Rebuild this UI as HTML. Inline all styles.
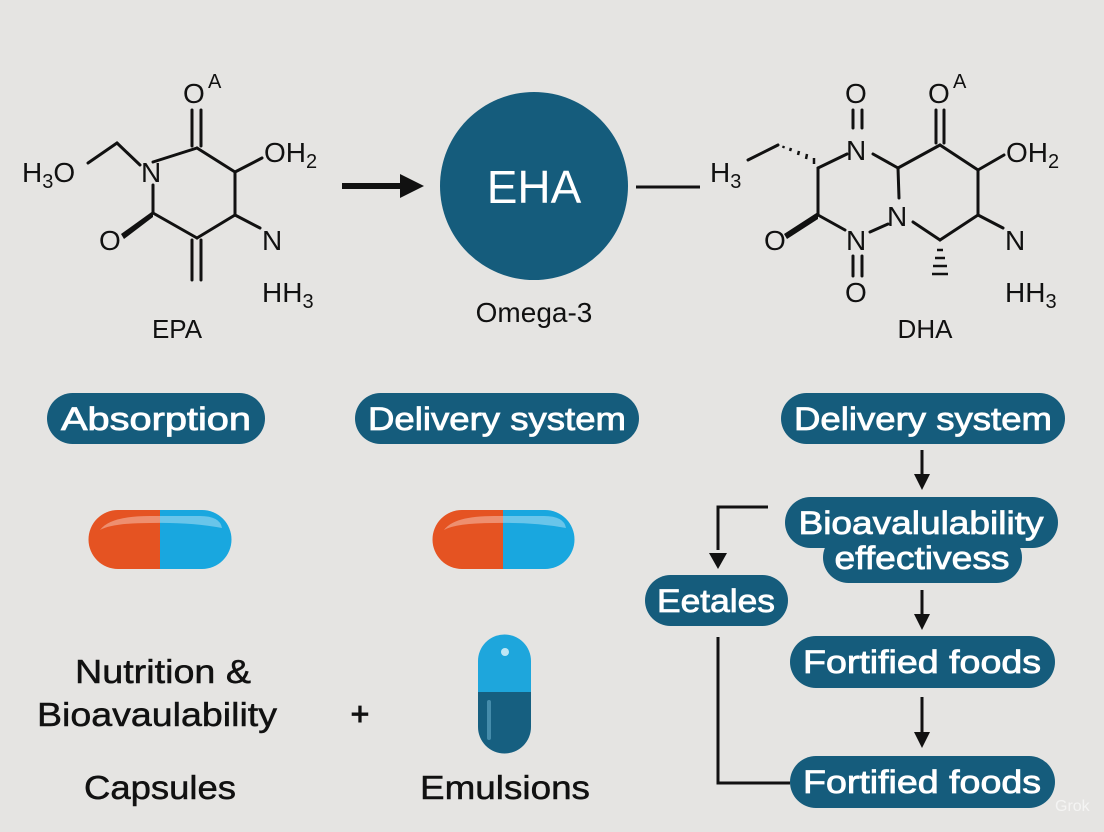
<!DOCTYPE html>
<html><head><meta charset="utf-8"><style>
html,body{margin:0;padding:0;background:#e5e4e2;}
svg{display:block;}
text{font-family:"Liberation Sans",sans-serif;}
</style></head><body>
<svg width="1104" height="832" viewBox="0 0 1104 832" xmlns="http://www.w3.org/2000/svg">
<rect width="1104" height="832" fill="#e5e4e2"/>

<!-- Left molecule EPA -->
<g stroke="#111" stroke-width="3" fill="none" stroke-linecap="round">
<line x1="197" y1="148" x2="153" y2="162"/>
<line x1="197" y1="148" x2="235" y2="172"/>
<line x1="235" y1="172" x2="235" y2="215"/>
<line x1="235" y1="215" x2="197" y2="238"/>
<line x1="197" y1="238" x2="153" y2="213"/>
<line x1="153" y1="213" x2="153" y2="185"/>
<line x1="192" y1="146" x2="192" y2="110"/><line x1="201" y1="146" x2="201" y2="110"/>
<line x1="192" y1="240" x2="192" y2="280"/><line x1="201" y1="240" x2="201" y2="280"/>
<line x1="140" y1="165" x2="117" y2="143"/>
<line x1="117" y1="143" x2="88" y2="163"/>
<line x1="235" y1="172" x2="262" y2="158"/>
<line x1="235" y1="215" x2="260" y2="228"/>
</g>
<polygon points="153,211 153,217 124,239 121,234" fill="#111"/>
<g font-size="28" fill="#111">
<text x="183" y="103">O</text><text x="208" y="88" font-size="20">A</text>
<text x="141" y="182">N</text>
<text x="22" y="182">H<tspan font-size="20" dy="6">3</tspan><tspan dy="-6">O</tspan></text>
<text x="264" y="162">OH<tspan font-size="20" dy="6">2</tspan></text>
<text x="99" y="250">O</text>
<text x="262" y="250">N</text>
<text x="262" y="302">HH<tspan font-size="20" dy="6">3</tspan></text>
<text x="177" y="338" font-size="26" text-anchor="middle">EPA</text>
</g>

<!-- Arrow and circle -->
<line x1="342" y1="186" x2="404" y2="186" stroke="#111" stroke-width="6"/>
<polygon points="400,174 424,186 400,198" fill="#111"/>
<circle cx="534" cy="186" r="94" fill="#155c7c"/>
<text x="534" y="203" font-size="46" fill="#fff" text-anchor="middle">EHA</text>
<text x="534" y="322" font-size="28" fill="#111" text-anchor="middle">Omega-3</text>
<line x1="636" y1="187" x2="700" y2="187" stroke="#111" stroke-width="3"/>

<!-- Right molecule DHA -->
<g stroke="#111" stroke-width="3" fill="none" stroke-linecap="round">
<line x1="818" y1="168" x2="847" y2="154"/>
<line x1="873" y1="154" x2="898" y2="168"/>
<line x1="898" y1="168" x2="899" y2="198"/>
<line x1="818" y1="168" x2="818" y2="215"/>
<line x1="818" y1="215" x2="845" y2="230"/>
<line x1="870" y1="232" x2="888" y2="224"/>
<line x1="913" y1="222" x2="940" y2="240"/>
<line x1="940" y1="240" x2="978" y2="215"/>
<line x1="978" y1="215" x2="978" y2="170"/>
<line x1="978" y1="170" x2="940" y2="145"/>
<line x1="940" y1="145" x2="898" y2="168"/>
<line x1="978" y1="170" x2="1004" y2="155"/>
<line x1="978" y1="215" x2="1003" y2="228"/>
<line x1="936" y1="143" x2="936" y2="110"/><line x1="944" y1="143" x2="944" y2="110"/>
<line x1="853" y1="128" x2="853" y2="110"/><line x1="862" y1="128" x2="862" y2="110"/>
<line x1="853" y1="256" x2="853" y2="276"/><line x1="862" y1="256" x2="862" y2="276"/>
<line x1="778" y1="145" x2="748" y2="160"/>
</g>
<g stroke="#111" stroke-width="2.5">
<line x1="814" y1="164" x2="814" y2="158"/><line x1="806" y1="159" x2="807" y2="154"/>
<line x1="798" y1="155" x2="799" y2="151"/><line x1="790" y1="151" x2="791" y2="148"/>
<line x1="783" y1="148" x2="784" y2="146"/>
<line x1="937" y1="250" x2="943" y2="250"/><line x1="935" y1="258" x2="945" y2="258"/>
<line x1="933" y1="266" x2="947" y2="266"/><line x1="932" y1="274" x2="948" y2="274"/>
</g>
<polygon points="818,212 818,219 787,239 784,234" fill="#111"/>
<g font-size="28" fill="#111">
<text x="928" y="103">O</text><text x="953" y="88" font-size="20">A</text>
<text x="845" y="103">O</text>
<text x="846" y="160">N</text>
<text x="887" y="226">N</text>
<text x="846" y="250">N</text>
<text x="845" y="302">O</text>
<text x="764" y="250">O</text>
<text x="710" y="182">H<tspan font-size="20" dy="6">3</tspan></text>
<text x="1006" y="162">OH<tspan font-size="20" dy="6">2</tspan></text>
<text x="1005" y="250">N</text>
<text x="1005" y="302">HH<tspan font-size="20" dy="6">3</tspan></text>
<text x="925" y="338" font-size="26" text-anchor="middle">DHA</text>
</g>

<!-- Pill labels -->
<g fill="#155c7c">
<rect x="47" y="393" width="218" height="51" rx="25.5"/>
<rect x="355" y="393" width="284" height="51" rx="25.5"/>
<rect x="781" y="393" width="284" height="51" rx="25.5"/>
<rect x="785" y="497" width="273" height="51" rx="25.5"/>
<rect x="823" y="532" width="199" height="51" rx="25.5"/>
<rect x="645" y="575" width="143" height="51" rx="25.5"/>
<rect x="790" y="636" width="265" height="52" rx="26"/>
<rect x="790" y="756" width="265" height="52" rx="26"/>
</g>
<g fill="#fff" font-size="32" text-anchor="middle" stroke="#fff" stroke-width="0.8">
<text x="156" y="430" textLength="190" lengthAdjust="spacingAndGlyphs">Absorption</text>
<text x="497" y="430" textLength="258" lengthAdjust="spacingAndGlyphs">Delivery system</text>
<text x="923" y="430" textLength="258" lengthAdjust="spacingAndGlyphs">Delivery system</text>
<text x="921" y="534" textLength="245" lengthAdjust="spacingAndGlyphs">Bioavalulability</text>
<text x="922" y="569" textLength="175" lengthAdjust="spacingAndGlyphs">effectivess</text>
<text x="716" y="612" textLength="118" lengthAdjust="spacingAndGlyphs">Eetales</text>
<text x="922" y="673" textLength="238" lengthAdjust="spacingAndGlyphs">Fortified foods</text>
<text x="922" y="793" textLength="238" lengthAdjust="spacingAndGlyphs">Fortified foods</text>
</g>

<!-- Flow connectors -->
<g stroke="#111" stroke-width="3" fill="none">
<line x1="922" y1="450" x2="922" y2="478"/>
<line x1="922" y1="590" x2="922" y2="618"/>
<line x1="922" y1="697" x2="922" y2="735"/>
<polyline points="768,507 718,507 718,550"/>
<polyline points="718,637 718,783 790,783"/>
</g>
<g fill="#111">
<polygon points="914,474 930,474 922,490"/>
<polygon points="914,614 930,614 922,630"/>
<polygon points="914,732 930,732 922,748"/>
<polygon points="709,553 727,553 718,569"/>
</g>

<!-- Capsules horizontal -->
<g>
<path d="M118,510 H160 V569 H118 A29.5,29.5 0 0 1 118,510Z" fill="#e55322"/>
<path d="M160,510 H202 A29.5,29.5 0 0 1 202,569 H160Z" fill="#19a7df"/>
<path d="M100,530 Q110,516 150,516 H200 Q220,516 222,528 Q190,522 150,523 Q112,523 100,530Z" fill="#fff" opacity="0.35"/>
<path d="M462,510 H503 V569 H462 A29.5,29.5 0 0 1 462,510Z" fill="#e55322"/>
<path d="M503,510 H545 A29.5,29.5 0 0 1 545,569 H503Z" fill="#19a7df"/>
<path d="M444,530 Q454,516 494,516 H544 Q564,516 566,528 Q534,522 494,523 Q456,523 444,530Z" fill="#fff" opacity="0.35"/>
</g>
<!-- vertical capsule -->
<path d="M478,692 V661 A26.5,26.5 0 0 1 531,661 V692Z" fill="#1ea6dc"/>
<path d="M478,692 H531 V727 A26.5,26.5 0 0 1 478,727Z" fill="#165f80"/>
<circle cx="505" cy="652" r="4" fill="#bfe6f5"/>
<rect x="487" y="700" width="4" height="40" rx="2" fill="#5a9fbd" opacity="0.7"/>

<!-- Bottom-left texts -->
<g fill="#111" font-size="33" text-anchor="middle" stroke="#111" stroke-width="0.5">
<text x="163" y="683" textLength="176" lengthAdjust="spacingAndGlyphs">Nutrition &amp;</text>
<text x="157" y="726" textLength="240" lengthAdjust="spacingAndGlyphs">Bioavaulability</text>
<text x="360" y="725" font-size="32" stroke-width="1">+</text>
<text x="160" y="799" textLength="152" lengthAdjust="spacingAndGlyphs">Capsules</text>
<text x="505" y="799" textLength="170" lengthAdjust="spacingAndGlyphs">Emulsions</text>
</g>
<text x="1055" y="811" font-size="16" fill="#fff" opacity="0.6">Grok</text>
</svg>
</body></html>
